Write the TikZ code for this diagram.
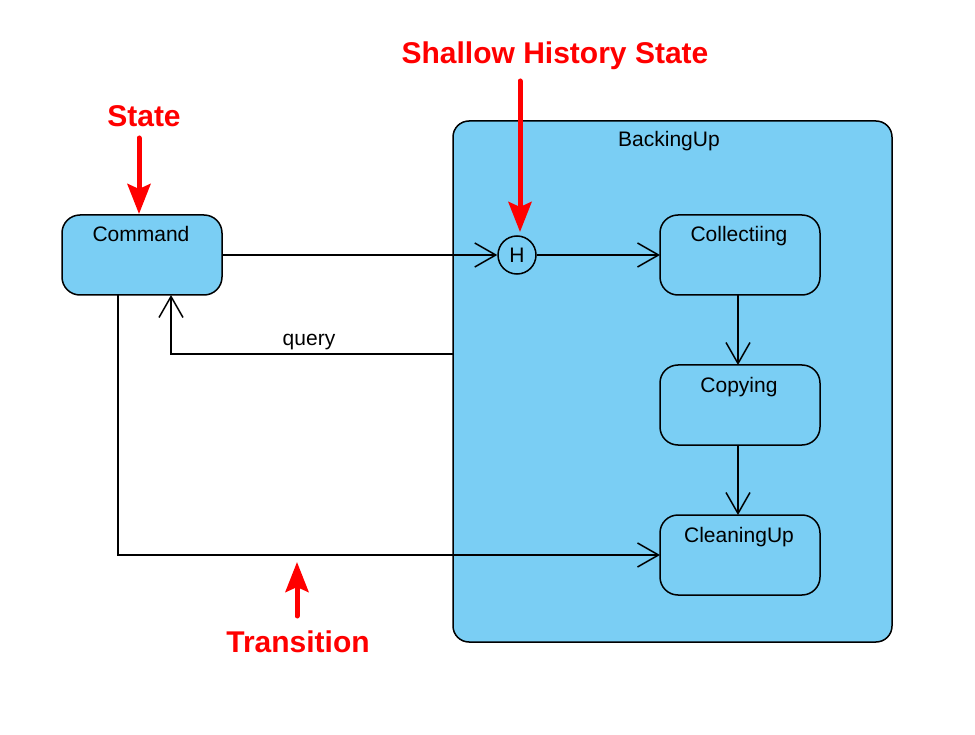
\documentclass[tikz,border=0pt]{standalone}
\usepackage{fontspec}
\setmainfont{Liberation Sans}
\usetikzlibrary{arrows.meta}
\definecolor{stfill}{RGB}{122,206,244}
\definecolor{annred}{RGB}{255,0,0}
\begin{document}
\begin{tikzpicture}[x=1pt,y=-1pt,
  statebox/.style={draw=black,line width=1.5pt,fill=stfill,rounded corners=18pt},
  lbl/.style={font=\fontsize{21}{24}\selectfont,anchor=base,inner sep=0pt},
  ann/.style={font=\fontsize{30}{34}\selectfont\bfseries,text=annred,inner sep=0pt},
  trans/.style={draw=black,line width=1.5pt,-{Straight Barb[length=21pt,width=24pt,line width=1.5pt]}},
  redarrow/.style={draw=annred,line width=5pt,line cap=round,-{Stealth[length=30pt,width=23pt,inset=5pt]}}]
\useasboundingbox (0,0) rectangle (975,735);
% composite state
\draw[statebox,rounded corners=16pt] (453,121) rectangle (892,642);
\node[lbl] (bu) at (669,147) {BackingUp};
% states
\draw[statebox] (62,215) rectangle (222,295);
\coordinate (cmdR) at (222,255);
\coordinate (cmdB1) at (118,295);
\coordinate (cmdB2) at (171,295);
\node[lbl] (cmd) at (141,242) {Command};
\draw[statebox] (660,215) rectangle (820,295);
\coordinate (colL) at (660,255);
\coordinate (colB) at (738,295);
\node[lbl] (col) at (739,242) {Collectiing};
\draw[statebox] (660,365) rectangle (820,445);
\coordinate (copT) at (738,365);
\coordinate (copB) at (738,445);
\node[lbl] (cop) at (739,392) {Copying};
\draw[statebox] (660,515) rectangle (820,595);
\coordinate (clT) at (738,515);
\coordinate (clL) at (660,555);
\node[lbl] (cl) at (739,542) {CleaningUp};
% history
\node[draw=black,line width=1.5pt,circle,minimum size=38pt,inner sep=0pt,font=\fontsize{21}{24}\selectfont] (h) at (517,255) {H};
% transitions
\draw[trans] (cmdR) -- (h.west);
\draw[trans] (h.east) -- (colL);
\draw[trans] (colB) -- (copT);
\draw[trans] (copB) -- (clT);
\coordinate (qs) at (453,354);
\draw[trans] (qs) -- (171,354) -- (cmdB2);
\node[lbl] (q) at (309,346) {query};
\draw[trans] (cmdB1) -- (118,555) -- (clL);
% annotations
\node[ann] (a1) at (144,116) {State};
\node[ann] (a2) at (555,56) {Shallow History State};
\node[ann] (a3) at (298,642) {Transition};
\coordinate (r1s) at (139,138);
\coordinate (r1e) at (139,214);
\coordinate (r2s) at (520,81);
\coordinate (r2e) at (520,232);
\coordinate (r3s) at (297,616);
\coordinate (r3e) at (297,562);
\draw[redarrow] (r1s) -- (r1e);
\draw[redarrow] (r2s) -- (r2e);
\draw[redarrow] (r3s) -- (r3e);
\end{tikzpicture}
\end{document}
